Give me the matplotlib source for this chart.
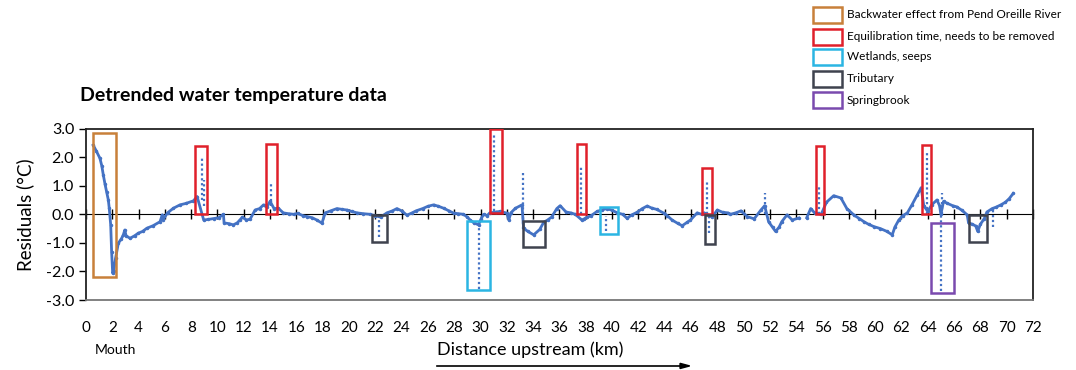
import matplotlib.pyplot as plt
from matplotlib.patches import Rectangle
import numpy as np

# residual trace (km upstream, residual degC); nan = gap in record
km = [0.55, 0.8, 1.06, 1.2, 1.32, 1.45, 1.57, 1.7, 1.77, 1.88, 1.95, 2.03, 2.1, 2.25, 2.46,
      2.7, 2.84, 2.95, 3.05, 3.35, 3.7, 3.98, 4.3, 4.62, 5.1, 5.63, 5.8, 5.85, 6.2, 6.64,
      7.15, 7.6, 8.17, 8.45, 8.95, 9.3, 9.7, 10.1, 10.45, 10.5, 10.9, 11.2, 11.5, 11.7, 11.9,
      12.2, 12.48, 12.86, 13.2, 13.5, 13.75, 14.0, 14.3, 14.63, 15.0, 15.4, 15.8, 16.1, 16.5,
      16.8, 17.2, 17.55, 17.94, 18.19, 18.6, 19.08, 19.5, 19.84, 20.2, 20.6, 21.1, 21.6, 22.0,
      22.4, 22.88, 23.3, 23.64, 24.0, 24.4, 24.8, 25.1, 25.6, 26.0, 26.43, 26.8, 27.2, 27.6,
      27.95, 28.3, 28.7, 29.0, 29.2, 29.5, 29.85, 30.05, 30.24, 30.5, 30.7, 31.2, 31.5, 32.0,
      32.15, 32.3, 32.65, 33.15, 33.27, 33.6, 34.04, 34.5, 34.8, 35.1, 35.4, 35.8, 36.05, 36.5,
      36.85, 37.2, 37.7, 37.85, 38.1, 38.4, 38.86, 39.2, 39.6, 40.0, 40.4, 40.8, 41.14, 41.5,
      41.9, 42.3, 42.67, 43.0, 43.4, 43.93, 44.2, 44.56, 45.0, 45.33, 45.7, 45.96, 46.47, 46.8,
      47.0, 47.6, 48.0, 48.4, 48.8, 49.0, 49.4, 49.8, 50.28, 50.8, 51.3, 51.6, 51.9, 52.2,
      52.43, 52.7, 52.9, 53.3, 53.7, 54.2, 54.5, 54.8, 55.1, 55.4, 55.9, 56.3, 56.85, 57.4,
      57.85, 58.4, 58.8, 59.15, 59.5, 59.9, 60.4, 60.9, 61.3, 61.5, 61.8, 62.1, 62.45, 62.8,
      63.2, 63.5, 63.7, 64.0, 64.3, 64.7, 64.9, 65.0, 65.2, 65.5, 65.9, 66.2, 66.6, 67.0, 67.1,
      67.4, 67.65, 67.8, 68.0, 68.3, 68.5, 68.9, 69.2, 69.56, 69.9, 70.2, 70.5]
resid = [2.42, 2.2, 1.96, 1.7, 1.37, 1.05, 0.79, 0.5, 0.21, -0.37, -1.31, -2.06, -2.0, -1.54, -1.01,
         -0.85, -0.72, -0.55, -0.75, -0.84, -0.75, -0.66, -0.6, -0.49, -0.4, -0.26, -0.02, -0.2, 0.05, 0.21,
         0.33, 0.38, 0.47, 0.62, -0.2, -0.18, -0.15, -0.12, 0.0, -0.3, -0.33, -0.37, -0.3, -0.2, -0.1,
         -0.2, -0.17, 0.15, 0.2, 0.33, 0.25, 0.45, 0.2, 0.21, 0.05, 0.02, 0.0, 0.03, -0.05,
         -0.08, -0.12, -0.2, -0.31, 0.05, 0.12, 0.2, 0.17, 0.15, 0.1, 0.05, 0.02, 0.0, -0.05,
         -0.1, 0.05, 0.12, 0.2, 0.12, -0.03, 0.05, 0.12, 0.2, 0.28, 0.33, 0.28, 0.21, 0.12,
         0.04, 0.02, 0.0, -0.1, -0.2, -0.3, -0.37, -0.15, 0.0, -0.05, 0.05, 0.08, 0.1, 0.04,
         -0.2, 0.05, 0.21, 0.33, -0.49, -0.6, -0.72, -0.53, -0.28, -0.2, -0.1, 0.2, 0.3, 0.08,
         0.05, 0.0, -0.2, -0.17, -0.1, -0.05, 0.1, 0.15, 0.2, 0.14, 0.05, 0.0, -0.14, -0.02,
         0.07, 0.2, 0.29, 0.22, 0.17, 0.04, -0.05, -0.2, -0.32, -0.4, -0.28, -0.2, 0.05, 0.0,
         0.05, -0.1, 0.15, 0.07, 0.05, 0.0, 0.05, 0.12, -0.08, -0.16, 0.14, 0.3, -0.26, -0.45,
         -0.6, -0.45, -0.26, -0.02, -0.2, -0.13, np.nan, -0.12, 0.2, 0.05, 0.0, 0.42, 0.65, 0.57,
         0.2, -0.03, -0.15, -0.26, -0.35, -0.43, -0.5, -0.6, -0.72, -0.45, -0.2, -0.05, 0.05, 0.33,
         0.67, 0.93, 0.3, 0.1, 0.33, 0.5, 0.3, 0.0, 0.45, 0.38, 0.3, 0.26, 0.14, -0.02, -0.3,
         -0.35, -0.41, -0.6, -0.35, -0.15, 0.08, 0.2, 0.25, 0.33, 0.42, 0.55, 0.73]

# dotted vertical excursions (km, low, high)
spike_km = [8.8, 9.0, 14.1, 22.3, 29.9, 31.05, 33.2, 37.6, 39.5, 47.2, 47.4, 51.6, 55.7, 63.95, 65.0, 65.1, 68.95]
spike_lo = [0.5, 0.3, 0.3, -0.8, -2.6, 0.1, -0.5, 0.0, -0.6, 0.0, -0.65, 0.0, 0.0, 0.0, -2.7, 0.0, -0.43]
spike_hi = [2.05, 1.2, 1.1, -0.05, -0.4, 2.8, 1.5, 1.7, -0.05, 1.2, 0.0, 0.76, 1.0, 2.2, 0.0, 0.76, 0.2]

# flagged reaches: (km start, km end, low, high)
backwater = [(0.5, 2.25, -2.2, 2.83)]
equilibration = [(8.29, 9.23, 0, 2.4), (13.67, 14.56, 0, 2.46), (30.69, 31.63, 0.03, 2.98),
                 (37.34, 38.05, 0, 2.46), (46.8, 47.6, 0, 1.63), (55.53, 56.1, 0, 2.39),
                 (63.59, 64.23, 0, 2.42)]
wetlands = [(28.96, 30.73, -2.65, -0.22), (39.06, 40.43, -0.69, 0.27)]
tributary = [(21.78, 22.88, -0.98, -0.02), (33.2, 34.88, -1.13, -0.22),
             (47.03, 47.8, -1.04, -0.02), (67.1, 68.47, -0.98, -0.02)]
springbrook = [(64.23, 66.0, -2.74, -0.32)]

groups = [("Backwater effect from Pend Oreille River", "#C8803A", backwater),
          ("Equilibration time, needs to be removed", "#E0202A", equilibration),
          ("Wetlands, seeps", "#2BB5E3", wetlands),
          ("Tributary", "#3F434E", tributary),
          ("Springbrook", "#7A4AAE", springbrook)]

blue = "#4472C4"
fig = plt.figure(figsize=(10.76, 3.70), dpi=100)
ax = fig.add_axes([0.0799, 0.189, 0.8801, 0.4637])

ax.plot(km, resid, color=blue, lw=2.0, marker='.', ms=3)
ax.vlines(spike_km, spike_lo, spike_hi, colors=blue, lw=1.6, linestyles=(0, (1, 1.2)))

for name, col, spans in groups:
    for x0, x1, y0, y1 in spans:
        ax.add_patch(Rectangle((x0, y0), x1 - x0, y1 - y0, fill=False, ec=col, lw=1.8, zorder=4))

ax.set_xlim(0, 72)
ax.set_ylim(-3, 3)
ax.set_yticks(np.arange(-3, 3.1, 1))
ax.set_yticklabels(["%.1f" % v for v in np.arange(-3, 3.1, 1)], fontsize=11.5, family=['Lato', 'DejaVu Sans'])
ax.set_xticks(range(0, 73, 2))
ax.set_xticklabels([str(v) for v in range(0, 73, 2)], fontsize=11, family=['Lato', 'DejaVu Sans'])
ax.tick_params(axis='x', length=0, pad=15)
ax.tick_params(axis='y', length=5, width=1, direction='out')
for s in ['top', 'left', 'right']:
    ax.spines[s].set_color('#222222')
    ax.spines[s].set_linewidth(1.3)
ax.spines['bottom'].set_color('#777777')
ax.spines['bottom'].set_linewidth(1.3)

# zero axis with crossing ticks
zero = ax.secondary_xaxis(0.5)
zero.set_xticks(range(0, 73, 2))
zero.set_xticklabels([])
zero.tick_params(length=7, width=1, direction='inout')
zero.spines['bottom'].set_linewidth(1.2)

ax.set_ylabel("Residuals (°C)", fontsize=13.5, family=['Lato', 'DejaVu Sans'], labelpad=8)
fig.text(0.0745, 0.742, "Detrended water temperature data", fontsize=14, fontweight='bold',
         family=['Lato', 'DejaVu Sans'], va='center')
fig.text(0.088, 0.055, "Mouth", fontsize=10, family=['Lato', 'DejaVu Sans'], va='center')
fig.text(0.406, 0.055, "Distance upstream (km)", fontsize=13, family=['Lato', 'DejaVu Sans'], va='center')
fig.add_artist(plt.Line2D([0.406, 0.632], [0.011, 0.011], color='black', lw=1.2))
fig.patches.append(plt.Polygon([[0.632, 0.004], [0.641, 0.011], [0.632, 0.018]],
                               closed=True, color='black', transform=fig.transFigure, figure=fig))

# legend key
row_y = [15, 36.5, 57, 78.5, 100]
for (name, col, spans), yc in zip(groups, row_y):
    fy = 1 - yc / 370
    fig.patches.append(Rectangle((813 / 1076, fy - 8 / 370), 29 / 1076, 16 / 370, fill=False,
                                 ec=col, lw=1.8, transform=fig.transFigure, figure=fig))
    fig.text(847 / 1076, fy, name, fontsize=8.5, family=['Lato', 'DejaVu Sans'], va='center')

fig.savefig("out.png", dpi=100)
